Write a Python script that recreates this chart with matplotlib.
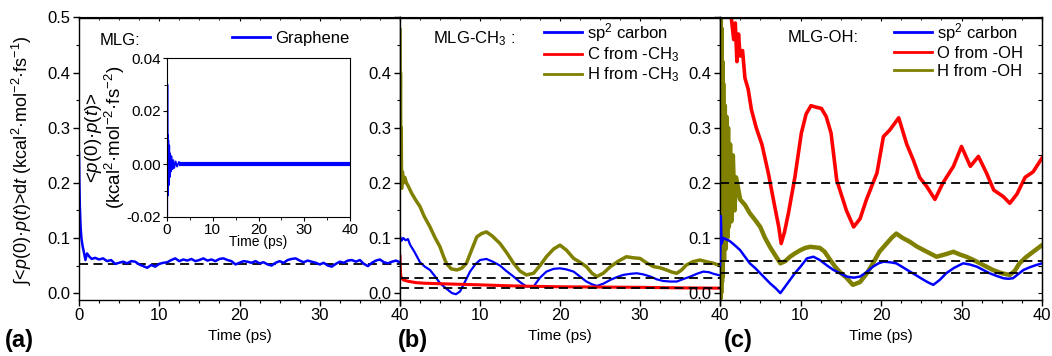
import numpy as np
import matplotlib
matplotlib.use('Agg')
import matplotlib.pyplot as plt

plt.rcParams['font.family'] = ['Liberation Sans', 'DejaVu Sans']
plt.rcParams['mathtext.fontset'] = 'custom'
plt.rcParams['mathtext.rm'] = 'Liberation Sans'
plt.rcParams['mathtext.it'] = 'Liberation Sans:italic'
plt.rcParams['mathtext.bf'] = 'Liberation Sans:bold'

BLUE = '#0000ff'
RED = '#ff0000'
OLIVE = '#808000'

# ---- panel (a): MLG, graphene ----
t_graphene = [0, 0.05, 0.1, 0.2, 0.3, 0.45, 0.6, 0.8, 1.0, 1.3, 1.6] + list(np.arange(2.0, 40.25, 0.5))
v_graphene = [0.255, 0.2, 0.16, 0.12, 0.1, 0.085, 0.075, 0.06, 0.072, 0.066, 0.062,
              0.064, 0.061, 0.063, 0.058, 0.06, 0.053, 0.055, 0.057, 0.054, 0.058,
              0.057, 0.052, 0.049, 0.046, 0.051, 0.048, 0.053, 0.055, 0.056, 0.06,
              0.063, 0.058, 0.061, 0.059, 0.062, 0.058, 0.06, 0.063, 0.059, 0.061,
              0.058, 0.062, 0.063, 0.06, 0.058, 0.052, 0.055, 0.058, 0.057, 0.055,
              0.058, 0.054, 0.056, 0.052, 0.05, 0.055, 0.058, 0.055, 0.06, 0.062,
              0.063, 0.059, 0.056, 0.059, 0.057, 0.055, 0.052, 0.055, 0.05, 0.048,
              0.053, 0.057, 0.055, 0.059, 0.06, 0.057, 0.06, 0.053, 0.049, 0.055,
              0.059, 0.061, 0.056, 0.054, 0.057, 0.059, 0.056]
dash_a = [0.053]

# inset: <p(0).p(t)> for graphene
t_acf = [0, 0.05, 0.1, 0.15, 0.2, 0.25, 0.3, 0.4, 0.5, 0.6, 0.7, 0.8, 1.0, 1.2,
         1.4, 1.6, 1.9, 2.2, 2.6, 3.0, 5, 10, 15, 20, 25, 30, 35, 40]
v_acf = [0.04, -0.02, 0.03, -0.012, 0.011, -0.011, 0.009, -0.008, 0.007, -0.005,
         0.004, -0.003, 0.003, -0.002, 0.0015, -0.0015, 0.001, -0.001, 0.0008, 0.0,
         0.0, 0.0, 0.0, 0.0, 0.0, 0.0, 0.0, 0.0]

# ---- panel (b): MLG-CH3 ----
t_b_h = [0, 0.03, 0.06, 0.1, 0.15, 0.2, 0.3, 0.45, 0.6, 0.8,
         1.0, 1.5, 2.0, 2.5, 3.0, 3.75, 4.4, 5.0, 5.4, 5.8,
         6.4, 7.1, 7.7, 8.3, 9.0, 9.6, 10.2, 10.8, 11.5, 12.5,
         13.4, 14.2, 15.0, 15.8, 16.7, 17.5, 18.3, 19.2, 20.0, 20.8,
         21.7, 22.5, 23.3, 24.0, 24.6, 25.4, 26.3, 27.3, 28.3, 29.2,
         30.0, 30.8, 31.7, 32.5, 33.3, 34.0, 34.6, 35.2, 35.8, 36.6,
         37.5, 38.3, 39.2, 40.0]
v_b_h = [0.478, 0.33, 0.4, 0.25, 0.3, 0.19, 0.22, 0.2, 0.21, 0.2,
         0.195, 0.18, 0.168, 0.157, 0.14, 0.12, 0.1, 0.084, 0.068, 0.054,
         0.044, 0.042, 0.045, 0.054, 0.08, 0.102, 0.108, 0.111, 0.104, 0.09,
         0.072, 0.054, 0.04, 0.033, 0.036, 0.05, 0.066, 0.08, 0.087, 0.078,
         0.063, 0.056, 0.048, 0.036, 0.03, 0.036, 0.048, 0.058, 0.066, 0.064,
         0.063, 0.055, 0.048, 0.046, 0.042, 0.038, 0.036, 0.042, 0.051, 0.057,
         0.06, 0.057, 0.054, 0.05]

t_b_sp2 = [0, 0.2, 0.4, 0.7, 1.0, 1.25, 1.8, 2.5, 3.1, 3.75,
           4.4, 5.0, 5.8, 6.5, 7.0, 7.5, 8.1, 8.75, 9.4, 10.0,
           10.8, 11.6, 12.5, 13.3, 14.2, 15.0, 15.8, 16.7, 17.5, 18.3,
           19.2, 20.0, 20.8, 21.7, 22.5, 23.3, 24.0, 24.6, 25.4, 26.3,
           27.1, 27.9, 28.8, 29.6, 30.4, 31.3, 32.1, 32.9, 33.8, 34.6,
           35.5, 36.3, 37.1, 37.9, 38.6, 39.2, 40.0]
v_b_sp2 = [0.103, 0.095, 0.1, 0.096, 0.098, 0.088, 0.075, 0.056, 0.048, 0.042,
           0.03, 0.018, 0.008, 0.0, -0.002, 0.003, 0.02, 0.039, 0.052, 0.06,
           0.062, 0.057, 0.05, 0.04, 0.03, 0.02, 0.012, 0.012, 0.028, 0.039,
           0.044, 0.045, 0.043, 0.039, 0.03, 0.021, 0.016, 0.013, 0.017, 0.024,
           0.029, 0.033, 0.035, 0.036, 0.034, 0.03, 0.025, 0.022, 0.021, 0.021,
           0.026, 0.03, 0.035, 0.039, 0.038, 0.035, 0.032]

t_b_c = [0, 0.05, 0.1, 0.2, 0.4, 1.0, 2.0, 3.0, 5.0, 7.5, 10, 13, 16, 20, 25, 30, 35, 40]
v_b_c = [0.067, 0.04, 0.03, 0.028, 0.024, 0.0215, 0.019, 0.018, 0.017, 0.016,
         0.015, 0.0135, 0.0125, 0.0115, 0.011, 0.0105, 0.0095, 0.009]
dash_b = [0.052, 0.028, 0.0085]

# ---- panel (c): MLG-OH ----
t_c_sp2 = [0, 0.1, 0.2, 0.4, 0.7, 1.0, 1.25, 1.9, 2.5, 3.1,
           3.7, 4.4, 5.0, 5.6, 6.2, 6.9, 7.5, 8.1, 8.7, 9.3,
           10.0, 10.8, 11.6, 12.4, 13.3, 14.1, 14.9, 15.7, 16.6, 17.4,
           18.2, 19.0, 19.7, 20.3, 21.1, 21.9, 22.7, 23.6, 24.4, 25.3,
           25.9, 26.5, 27.3, 28.1, 29.1, 30.2, 31.0, 31.9, 32.7, 33.5,
           34.4, 35.2, 35.8, 36.4, 37.0, 37.7, 38.5, 39.3, 40.0]
v_c_sp2 = [0.05, 0.14, 0.09, 0.1, 0.098, 0.096, 0.094, 0.086, 0.078, 0.066,
           0.054, 0.045, 0.036, 0.027, 0.018, 0.009, 0.0, 0.012, 0.024, 0.036,
           0.048, 0.063, 0.066, 0.06, 0.05, 0.042, 0.036, 0.03, 0.028, 0.03,
           0.038, 0.048, 0.054, 0.057, 0.056, 0.054, 0.047, 0.039, 0.032, 0.024,
           0.019, 0.015, 0.024, 0.036, 0.046, 0.054, 0.052, 0.048, 0.042, 0.036,
           0.031, 0.027, 0.026, 0.027, 0.034, 0.042, 0.047, 0.051, 0.054]

t_c_o = [0, 0.5, 1.0, 1.4, 1.7, 1.9, 2.1, 2.3, 2.5, 2.8,
         3.1, 3.5, 3.9, 4.5, 5.2, 6.0, 6.8, 7.3, 7.6, 8.0,
         8.5, 9.3, 10.1, 10.7, 11.3, 12.0, 12.6, 13.2, 13.8, 14.5,
         15.7, 16.6, 17.4, 18.2, 19.5, 20.3, 21.1, 22.2, 23.2, 24.0,
         24.8, 25.7, 26.7, 27.7, 29.0, 30.0, 31.1, 32.1, 33.1, 34.0,
         35.2, 36.0, 36.9, 37.9, 38.9, 40.0]
v_c_o = [0.62, 0.58, 0.54, 0.5, 0.46, 0.49, 0.42, 0.47, 0.43, 0.44,
         0.39, 0.37, 0.333, 0.30, 0.27, 0.218, 0.157, 0.12, 0.09, 0.11,
         0.145, 0.21, 0.29, 0.325, 0.34, 0.337, 0.335, 0.32, 0.29, 0.205,
         0.15, 0.12, 0.135, 0.17, 0.218, 0.284, 0.296, 0.318, 0.27, 0.242,
         0.21, 0.193, 0.17, 0.2, 0.23, 0.266, 0.23, 0.248, 0.218, 0.187,
         0.175, 0.163, 0.18, 0.21, 0.22, 0.245]

t_c_h = [0, 0.05, 0.1, 0.15, 0.2, 0.25, 0.3, 0.35, 0.4,
         0.5, 0.6, 0.7, 0.8, 0.9, 1.0, 1.1,
         1.25, 1.4, 1.6, 1.8, 2.0,
         2.5, 3.1, 3.7, 4.4, 5.0, 5.6, 6.2, 6.8, 7.5,
         8.1, 8.7, 9.3, 10.0, 10.6, 11.2, 11.8, 12.4, 13.0, 13.7,
         14.3, 14.9, 15.7, 16.5, 17.4, 18.2, 19.0, 19.8, 20.7, 21.3,
         21.9, 22.7, 23.6, 24.4, 25.3, 26.1, 26.9, 27.9, 29.0, 29.8,
         30.6, 31.5, 32.3, 33.1, 33.9, 35.0, 36.0, 36.6, 37.2, 38.0,
         38.9, 40.0]
v_c_h = [0.5, -0.01, 0.5, 0.0, 0.48, 0.02, 0.42, 0.03, 0.38,
         0.06, 0.34, 0.08, 0.32, 0.1, 0.3, 0.12,
         0.27, 0.13, 0.25, 0.15, 0.21,
         0.17, 0.16, 0.145, 0.132, 0.12, 0.1, 0.084, 0.07, 0.054,
         0.058, 0.066, 0.072, 0.078, 0.082, 0.084, 0.083, 0.082, 0.075, 0.06,
         0.048, 0.038, 0.028, 0.015, 0.02, 0.035, 0.054, 0.075, 0.09, 0.1,
         0.108, 0.1, 0.093, 0.085, 0.078, 0.072, 0.066, 0.07, 0.075, 0.07,
         0.066, 0.06, 0.054, 0.048, 0.042, 0.036, 0.033, 0.04, 0.054, 0.065,
         0.075, 0.087]
dash_c = [0.2, 0.058, 0.036]

W, H = 1052, 356
fig = plt.figure(figsize=(W / 100, H / 100), dpi=100)

def px_axes(x0, x1, y0, y1):
    # axes rectangle from pixel edges (y measured from the top)
    return fig.add_axes([x0 / W, 1 - y1 / H, (x1 - x0) / W, (y1 - y0) / H])

ax_a = px_axes(79, 400, 17.5, 300)
ax_b = px_axes(400, 720, 17.5, 300)
ax_c = px_axes(720, 1042, 17.5, 300)

def style_main(ax, first):
    ax.set_xlim(0, 40)
    ax.set_ylim(-0.0125, 0.5)
    ax.set_xticks([0, 10, 20, 30, 40])
    ax.set_xticks(np.arange(0, 40.1, 2.5), minor=True)
    ax.set_yticks([0, 0.1, 0.2, 0.3, 0.4, 0.5])
    ax.set_yticks(np.arange(0, 0.51, 0.05), minor=True)
    if first:
        ax.set_xticklabels(['0', '10', '20', '30', '40'])
        ax.set_yticklabels(['0.0', '0.1', '0.2', '0.3', '0.4', '0.5'])
    else:
        ax.set_xticklabels(['', '10', '20', '30', '40'])
        ax.set_yticklabels(['0.0', '0.1', '0.2', '0.3', '0.4', ''])
    ax.tick_params(axis='both', which='major', direction='out', length=4, width=1,
                   labelsize=12, pad=2)
    ax.tick_params(axis='both', which='minor', direction='out', length=2.5, width=0.8)
    for s in ax.spines.values():
        s.set_linewidth(1.0)
    ax.set_xlabel('Time (ps)', fontsize=11, labelpad=4)
    # small inward ticks along the top edge
    top = ax.secondary_xaxis('top')
    top.set_xticks([0, 10, 20, 30, 40])
    top.set_xticks(np.arange(0, 40.1, 2.5), minor=True)
    top.tick_params(which='major', direction='in', length=3, labeltop=False)
    top.tick_params(which='minor', direction='in', length=2)

for i, ax in enumerate([ax_a, ax_b, ax_c]):
    style_main(ax, i == 0)

right = ax_c.secondary_yaxis('right')
right.set_yticks(np.arange(0, 0.51, 0.05))
right.tick_params(direction='in', length=3, labelright=False)

dash_style = (0, (5, 3))

def add_legend(ax, x, y, spacing):
    leg = ax.legend(loc='upper left', bbox_to_anchor=(x, y), frameon=False, fontsize=12,
                    handlelength=2.3, handletextpad=0.3, borderpad=0.2, borderaxespad=0,
                    labelspacing=spacing)
    for h in leg.get_lines():
        h.set_linewidth(2.0)

# panel a
ax_a.plot(t_graphene, v_graphene, color=BLUE, lw=1.8, label='Graphene')
for y in dash_a:
    ax_a.axhline(y, color='k', ls=dash_style, lw=1.3, zorder=1)
add_legend(ax_a, 0.465, 0.965, 0.1)
ax_a.text(0.065, 0.92, 'MLG:', transform=ax_a.transAxes, fontsize=12, va='center')

# panel b
ax_b.plot(t_b_sp2, v_b_sp2, color=BLUE, lw=1.6, label='sp$^2$ carbon')
ax_b.plot(t_b_c, v_b_c, color=RED, lw=2.2, label='C from -CH$_3$')
ax_b.plot(t_b_h, v_b_h, color=OLIVE, lw=2.5, label='H from -CH$_3$')
for y in dash_b:
    ax_b.axhline(y, color='k', ls=dash_style, lw=1.3, zorder=5)
add_legend(ax_b, 0.44, 1.0, 0.1)
ax_b.text(0.102, 0.925, 'MLG-CH$_3$ :', transform=ax_b.transAxes, fontsize=12, va='center')

# panel c
ax_c.plot(t_c_sp2, v_c_sp2, color=BLUE, lw=1.8, label='sp$^2$ carbon', zorder=3)
ax_c.plot(t_c_o, v_c_o, color=RED, lw=2.6, label='O from -OH', zorder=2)
ax_c.plot(t_c_h, v_c_h, color=OLIVE, lw=3.2, label='H from -OH', zorder=2.5)
for y in dash_c:
    ax_c.axhline(y, color='k', ls=dash_style, lw=1.3, zorder=5)
add_legend(ax_c, 0.53, 1.0, 0.15)
ax_c.text(0.211, 0.928, 'MLG-OH:', transform=ax_c.transAxes, fontsize=12, va='center')

# inset in panel a
ax_in = px_axes(167, 350, 58, 217)
ax_in.plot(t_acf[:20], v_acf[:20], color=BLUE, lw=1.2)
ax_in.plot(t_acf[19:], v_acf[19:], color=BLUE, lw=3.0)
ax_in.set_xlim(0, 40)
ax_in.set_ylim(-0.02, 0.04)
ax_in.set_xticks([0, 10, 20, 30, 40])
ax_in.set_xticks(np.arange(0, 40.1, 5), minor=True)
ax_in.set_yticks([-0.02, 0.0, 0.02, 0.04])
ax_in.set_yticks(np.arange(-0.02, 0.041, 0.01), minor=True)
ax_in.set_yticklabels(['-0.02', '0.00', '0.02', '0.04'])
ax_in.tick_params(which='major', direction='out', length=3, labelsize=11, pad=1)
ax_in.tick_params(which='minor', direction='out', length=2)
ax_in.set_xlabel('Time (ps)', fontsize=10, labelpad=-1)
ax_in.set_ylabel('<$\\mathit{p(0)}$·$\\mathit{p(t)}$>\n(kcal$^2$·mol$^{-2}$·fs$^{-2}$)',
                 fontsize=13.5, labelpad=0, linespacing=0.95)

# main y label and panel tags
fig.text(22 / W, 1 - 160 / H,
         '∫<$\\mathit{p(0)}$·$\\mathit{p(t)}$>d$\\mathit{t}$ (kcal$^2$·mol$^{-2}$·fs$^{-1}$)',
         rotation=90, ha='center', va='center', fontsize=13)
for x, tag in [(5, '(a)'), (398, '(b)'), (724, '(c)')]:
    fig.text(x / W, 1 - 340 / H, tag, fontsize=17, fontweight='bold', va='center', ha='left')

fig.savefig('out.png', dpi=100)
